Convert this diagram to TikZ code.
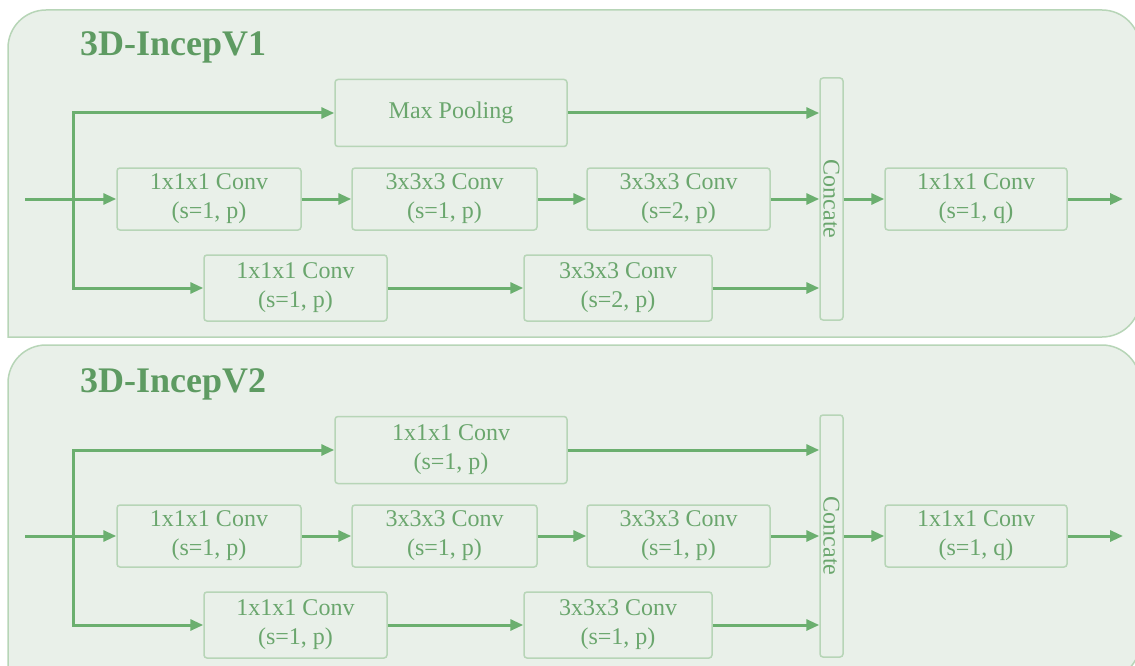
\documentclass[tikz,border=0pt]{standalone}
\usepackage{fontspec}
\setmainfont{Liberation Serif}
\usetikzlibrary{arrows.meta, positioning}
\definecolor{panelfill}{HTML}{E9F0E9}
\definecolor{panelline}{HTML}{B7D5B7}
\definecolor{blocktext}{HTML}{6AA66D}
\definecolor{flowgreen}{HTML}{6BAF6F}
\definecolor{titlegreen}{HTML}{5E9B62}

\tikzset{
  panel/.style={draw=panelline, fill=panelfill, line width=1.5pt, line cap=rect},
  block/.style={draw=panelline, line width=1.5pt, rounded corners=3pt, text=blocktext,
    align=center, inner sep=0pt, font=\fontsize{24}{29}\selectfont},
  caption/.style={text=blocktext, inner sep=0pt, font=\fontsize{24}{29}\selectfont},
  paneltitle/.style={anchor=west, text=titlegreen, inner sep=0pt, font=\fontsize{36}{40}\selectfont\bfseries},
  flow/.style={draw=flowgreen, line width=3pt, -{Triangle[length=13pt,width=11pt]}},
}

\begin{document}
\begin{tikzpicture}[x=1pt, y=-1pt]
\useasboundingbox (0,0) rectangle (1135,666);

% 3D-IncepV1
\path[panel] (8,337) [rounded corners=38pt] -- (8,10) -- (1140,10) -- (1140,337) -- (8,337);
\node[paneltitle] (title1) at (80,47) {3D-IncepV1};
\node[block, minimum width=232, minimum height=67] (pool1) at (451,113) {Max Pooling};
\node[block, minimum width=184, minimum height=62] (a1) at (209,199) {1x1x1 Conv\\(s=1, p)};
\node[block, minimum width=185, minimum height=62] (b1) at (444.5,199) {3x3x3 Conv\\(s=1, p)};
\node[block, minimum width=183, minimum height=62] (c1) at (678.5,199) {3x3x3 Conv\\(s=2, p)};
\node[block, minimum width=183, minimum height=66] (d1) at (295.5,288) {1x1x1 Conv\\(s=1, p)};
\node[block, minimum width=188, minimum height=66] (e1) at (618,288) {3x3x3 Conv\\(s=2, p)};
\node[block, minimum width=23, minimum height=242] (cat1) at (831.5,199) {};
\node[caption, rotate=-90] (cattext1) at (cat1) {Concate};
\node[block, minimum width=182, minimum height=62] (out1) at (976,199) {1x1x1 Conv\\(s=1, q)};
\coordinate (in1) at (25,199);
\coordinate (fork1) at (73,199);
\coordinate (res1) at (1123,199);

\draw[flow] (in1) -- (a1.west);
\draw[flow] (fork1) |- (pool1.west);
\draw[flow] (fork1) |- (d1.west);
\draw[flow] (a1) -- (b1);
\draw[flow] (b1) -- (c1);
\draw[flow] (d1) -- (e1);
\draw[flow] (pool1.east) -- (pool1.east -| cat1.west);
\draw[flow] (c1.east) -- (c1.east -| cat1.west);
\draw[flow] (e1.east) -- (e1.east -| cat1.west);
\draw[flow] (cat1.east) -- (out1.west);
\draw[flow] (out1.east) -- (res1);

% 3D-IncepV2
\path[panel] (8,680) [rounded corners=38pt] -- (8,345) -- (1140,345) -- (1140,680) -- (8,680);
\node[paneltitle] (title2) at (80,384) {3D-IncepV2};
\node[block, minimum width=232, minimum height=67] (top2) at (451,450) {1x1x1 Conv\\(s=1, p)};
\node[block, minimum width=184, minimum height=62] (a2) at (209,536) {1x1x1 Conv\\(s=1, p)};
\node[block, minimum width=185, minimum height=62] (b2) at (444.5,536) {3x3x3 Conv\\(s=1, p)};
\node[block, minimum width=183, minimum height=62] (c2) at (678.5,536) {3x3x3 Conv\\(s=1, p)};
\node[block, minimum width=183, minimum height=66] (d2) at (295.5,625) {1x1x1 Conv\\(s=1, p)};
\node[block, minimum width=188, minimum height=66] (e2) at (618,625) {3x3x3 Conv\\(s=1, p)};
\node[block, minimum width=23, minimum height=242] (cat2) at (831.5,536) {};
\node[caption, rotate=-90] (cattext2) at (cat2) {Concate};
\node[block, minimum width=182, minimum height=62] (out2) at (976,536) {1x1x1 Conv\\(s=1, q)};
\coordinate (in2) at (25,536);
\coordinate (fork2) at (73,536);
\coordinate (res2) at (1123,536);

\draw[flow] (in2) -- (a2.west);
\draw[flow] (fork2) |- (top2.west);
\draw[flow] (fork2) |- (d2.west);
\draw[flow] (a2) -- (b2);
\draw[flow] (b2) -- (c2);
\draw[flow] (d2) -- (e2);
\draw[flow] (top2.east) -- (top2.east -| cat2.west);
\draw[flow] (c2.east) -- (c2.east -| cat2.west);
\draw[flow] (e2.east) -- (e2.east -| cat2.west);
\draw[flow] (cat2.east) -- (out2.west);
\draw[flow] (out2.east) -- (res2);
\end{tikzpicture}
\end{document}
